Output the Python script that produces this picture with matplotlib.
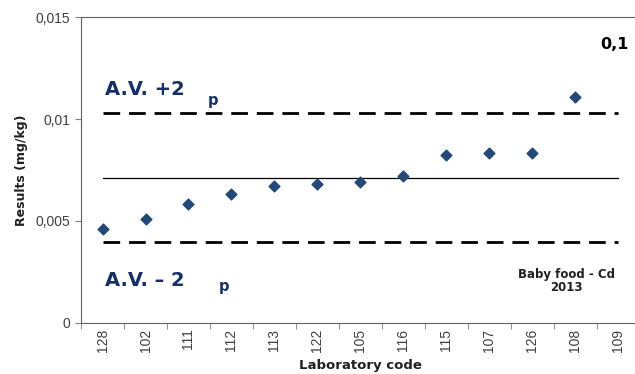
import matplotlib
matplotlib.use("Agg")
import matplotlib.pyplot as plt
import numpy as np

plt.rcParams["font.family"] = ["Liberation Sans", "DejaVu Sans"]

labs = ["128", "102", "111", "112", "113", "122", "105", "116", "115", "107", "126", "108", "109"]
results = [0.00461, 0.0051, 0.00583, 0.00632, 0.00672, 0.00681, 0.00691, 0.0072,
           0.00824, 0.00833, 0.00833, 0.01108, np.nan]
assigned = 0.00711
upper = 0.01029
lower = 0.00397

NAVY = "#14306a"
GREY = "#404040"
BOLD = ["DejaVu Sans"]

fig = plt.figure(figsize=(6.35, 3.74), dpi=100)
ax = fig.add_axes([0.1276, 0.1364, 0.88, 0.8181])

x = np.arange(len(labs))
ax.scatter(x, results, marker="D", s=30, color="#23497a", zorder=3)
ax.plot([x[0], x[-1]], [assigned] * 2, color="black", lw=0.9)
for v in (upper, lower):
    ax.plot([x[0], x[-1]], [v] * 2, color="black", lw=2, dashes=(6, 3.2))

ax.set_xlim(-0.5, len(labs) - 0.5)
ax.set_ylim(0, 0.015)
ax.set_yticks([0, 0.005, 0.01, 0.015])
ax.set_yticklabels(["0", "0,005", "0,01", "0,015"], color=GREY, fontsize=10)
ax.set_xticks(x)
ax.set_xticklabels(labs, rotation=90, color=GREY, fontsize=10)
ax.set_xticks(np.arange(-0.5, len(labs)), minor=True)
ax.tick_params(axis="x", which="major", length=0, pad=4)
ax.tick_params(axis="x", which="minor", length=4, color="#808080")
ax.tick_params(axis="y", length=4, color="#808080")
for s in ax.spines.values():
    s.set_color("#606060")
ax.spines["right"].set_visible(False)

ax.set_ylabel("Results (mg/kg)", fontsize=9, fontweight="bold", color="#202020",
              labelpad=6, family=BOLD)
ax.set_xlabel("Laboratory code", fontsize=9.5, fontweight="bold", color="#202020",
              labelpad=5, family=BOLD)

ax.text(0.05, 0.01145, "A.V. +2", fontsize=14, fontweight="bold", color=NAVY, va="center", family=BOLD)
ax.text(2.45, 0.0109, "p", fontsize=10.5, fontweight="bold", color=NAVY, va="center", family=BOLD)
ax.text(0.05, 0.0021, "A.V. – 2", fontsize=14, fontweight="bold", color=NAVY, va="center", family=BOLD)
ax.text(2.7, 0.0018, "p", fontsize=10.5, fontweight="bold", color=NAVY, va="center", family=BOLD)
ax.text(11.9, 0.01363, "0,1", fontsize=11.5, fontweight="bold", color="black", va="center",
        ha="center", family=BOLD)
ax.text(10.8, 0.00206, "Baby food - Cd\n2013", fontsize=8.5, fontweight="bold",
        color="#202020", va="center", ha="center", linespacing=1.0, family=BOLD)

fig.savefig("out.png", dpi=100)
